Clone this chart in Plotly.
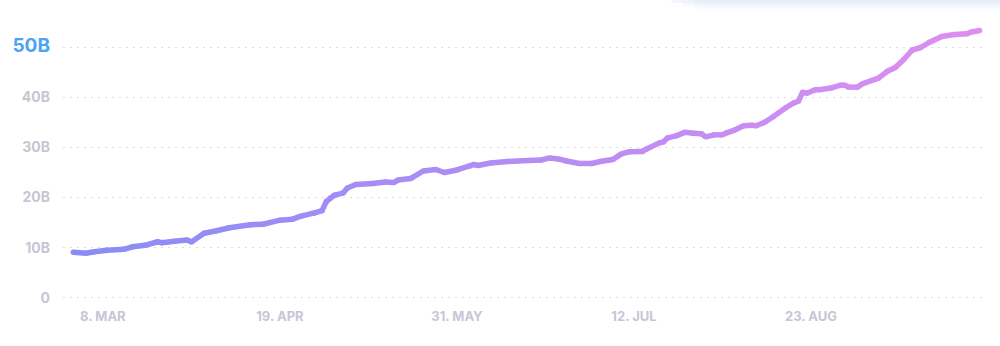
import plotly.graph_objects as go
from datetime import date

# ---- data (values in billions) ----
dates = [
    "2021-03-01", "2021-03-04", "2021-03-06", "2021-03-09", "2021-03-13", "2021-03-15",
    "2021-03-18", "2021-03-21", "2021-03-22", "2021-03-25", "2021-03-28", "2021-03-29",
    "2021-04-01", "2021-04-04", "2021-04-07", "2021-04-12", "2021-04-15", "2021-04-19",
    "2021-04-22", "2021-04-24", "2021-04-27", "2021-04-29", "2021-04-30", "2021-05-01",
    "2021-05-02", "2021-05-04", "2021-05-05", "2021-05-07", "2021-05-11", "2021-05-14",
    "2021-05-16", "2021-05-17", "2021-05-20", "2021-05-23", "2021-05-26", "2021-05-28",
    "2021-05-31", "2021-06-03", "2021-06-04", "2021-06-05", "2021-06-08", "2021-06-12",
    "2021-06-17", "2021-06-20", "2021-06-22", "2021-06-24", "2021-06-26", "2021-06-29",
    "2021-07-02", "2021-07-04", "2021-07-07", "2021-07-09", "2021-07-11", "2021-07-14",
    "2021-07-15", "2021-07-18", "2021-07-19", "2021-07-20", "2021-07-22", "2021-07-24",
    "2021-07-26", "2021-07-28", "2021-07-29", "2021-07-31", "2021-08-02", "2021-08-03",
    "2021-08-05", "2021-08-07", "2021-08-09", "2021-08-10", "2021-08-12", "2021-08-14",
    "2021-08-17", "2021-08-19", "2021-08-20", "2021-08-21", "2021-08-22", "2021-08-24",
    "2021-08-25", "2021-08-28", "2021-08-30", "2021-08-31", "2021-09-01", "2021-09-03",
    "2021-09-04", "2021-09-08", "2021-09-10", "2021-09-12", "2021-09-14", "2021-09-16",
    "2021-09-18", "2021-09-20", "2021-09-21", "2021-09-23", "2021-09-26", "2021-09-29",
    "2021-09-30", "2021-10-02",
]
values = [
    9.1, 8.9, 9.2, 9.5, 9.7, 10.2,
    10.5, 11.2, 11.0, 11.3, 11.55, 11.15,
    12.9, 13.4, 14.0, 14.6, 14.7, 15.5,
    15.7, 16.3, 16.9, 17.4, 19.2, 19.9,
    20.5, 20.9, 21.9, 22.6, 22.8, 23.1,
    23.0, 23.5, 23.8, 25.3, 25.6, 25.0,
    25.5, 26.3, 26.6, 26.4, 26.9, 27.2,
    27.4, 27.5, 27.9, 27.7, 27.3, 26.8,
    26.8, 27.2, 27.6, 28.7, 29.15, 29.2,
    29.7, 30.9, 31.1, 31.9, 32.3, 33.0,
    32.8, 32.7, 32.1, 32.5, 32.5, 32.9,
    33.5, 34.3, 34.4, 34.3, 35.0, 36.1,
    37.9, 38.9, 39.2, 41.0, 40.8, 41.5,
    41.5, 41.9, 42.4, 42.4, 42.0, 42.0,
    42.6, 43.8, 45.1, 45.9, 47.5, 49.4,
    49.9, 50.9, 51.3, 52.1, 52.5, 52.65,
    53.0, 53.3,
]

tick_dates = ["2021-03-08", "2021-04-19", "2021-05-31", "2021-07-12", "2021-08-23"]
tick_labels = ["8. MAR", "19. APR", "31. MAY", "12. JUL", "23. AUG"]
y_ticks = [0, 10, 20, 30, 40, 50]
y_labels = ["0", "10B", "20B", "30B", "40B",
            '<span style="color:#4ba3f6;font-size:19px">50B</span>']

# ---- styling ----
c_start = (138, 140, 246)
c_end = (222, 142, 241)

def ordinal(s):
    return date.fromisoformat(s).toordinal()

o0, o1 = ordinal(dates[0]), ordinal(dates[-1])

def color_at(s):
    f = (ordinal(s) - o0) / (o1 - o0)
    r, g, b = (round(a + (bb - a) * f) for a, bb in zip(c_start, c_end))
    return f"rgb({r},{g},{b})"

fig = go.Figure()

for i in range(len(dates) - 1):
    fig.add_trace(go.Scatter(
        x=dates[i:i + 2], y=values[i:i + 2], mode="lines",
        line=dict(color=color_at(dates[i]), width=5.5),
        hoverinfo="skip", showlegend=False,
    ))

fig.add_trace(go.Scatter(
    x=dates, y=values, mode="markers",
    marker=dict(size=5.5, color=[color_at(d) for d in dates], line=dict(width=0)),
    hoverinfo="skip", showlegend=False,
))

# faint shadow at the top right
for k, op in enumerate([0.30, 0.22, 0.15, 0.08]):
    fig.add_shape(type="rect", xref="paper", yref="paper",
                  x0=0.66 + 0.012 * k, x1=1.02,
                  y0=1.071 - (3 + 3 * k) / 282, y1=1.071,
                  fillcolor=f"rgba(215,230,246,{op})", line=dict(width=0),
                  layer="below")

fig.update_layout(
    width=1000, height=346,
    margin=dict(l=60, r=15, t=20, b=44),
    paper_bgcolor="white", plot_bgcolor="white",
    showlegend=False,
    xaxis=dict(
        type="date",
        range=["2021-02-26 13:00", "2021-10-03 06:30"],
        tickvals=tick_dates, ticktext=tick_labels,
        showgrid=False, zeroline=False, showline=False, ticks="",
        tickfont=dict(family="Inter", size=13, color="#c6c6d4", weight="bold"),
        ticklabelstandoff=5,
    ),
    yaxis=dict(
        range=[-0.8, 55.38],
        tickvals=y_ticks, ticktext=y_labels,
        showgrid=True, gridcolor="#dcdce4", gridwidth=1.3, griddash="2px,5px",
        zeroline=False, showline=False, ticks="",
        tickfont=dict(family="Inter", size=14, color="#c6c6d4", weight="bold"),
        ticklabelstandoff=12,
    ),
)

fig.write_html("out.html")
